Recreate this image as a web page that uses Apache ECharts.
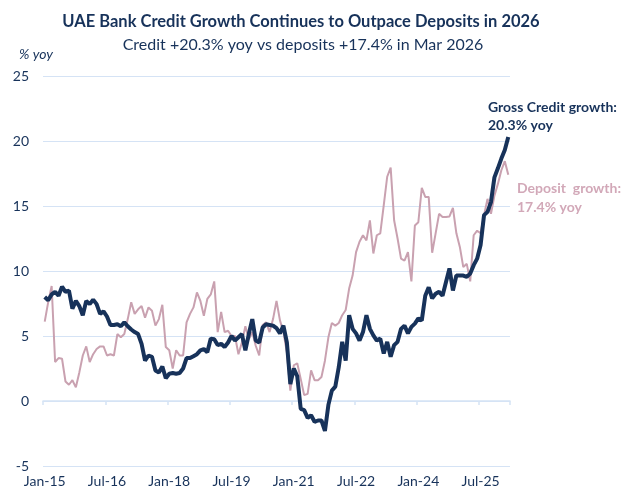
<!DOCTYPE html>
<html>
<head>
<meta charset="utf-8">
<script src="https://cdn.jsdelivr.net/npm/echarts@6/dist/echarts.min.js"></script>
<style>
html,body{margin:0;padding:0;background:#fff;}
#chart{width:622px;height:493px;}
</style>
</head>
<body>
<div id="chart"></div>
<script>
// Monthly categories Jan-15 .. Mar-26
var monthNames = ['Jan','Feb','Mar','Apr','May','Jun','Jul','Aug','Sep','Oct','Nov','Dec'];
var categories = [];
for (var y = 2015; y <= 2026; y++) {
  for (var m = 0; m < 12; m++) {
    if (y === 2026 && m > 2) break;
    categories.push(monthNames[m] + '-' + String(y).slice(2));
  }
}

// Gross credit growth, % yoy
var creditGrowth = [
  8.0, 7.75, 8.2, 8.4, 8.1, 8.8, 8.4, 8.5, 7.1, 7.7,
  7.3, 6.6, 7.7, 7.45, 7.8, 7.45, 6.7, 6.9, 6.5, 5.85,
  5.85, 5.9, 5.75, 6.05, 5.75, 5.5, 5.3, 5.15, 4.4, 3.1,
  3.5, 3.4, 2.35, 2.2, 2.65, 1.75, 2.1, 2.15, 2.1, 2.15,
  2.5, 3.3, 3.3, 3.45, 3.6, 3.9, 4.0, 3.75, 4.8, 4.75,
  4.3, 4.4, 4.15, 4.5, 5.0, 4.65, 4.9, 5.15, 3.9, 5.15,
  6.3, 4.65, 4.5, 5.65, 5.9, 5.85, 5.8, 5.6, 5.2, 5.8,
  4.5, 1.3, 2.5, 1.9, -0.6, -0.7, -1.3, -1.1, -1.6, -1.5,
  -1.5, -2.3, -0.3, 0.8, 1.1, 2.6, 4.55, 3.1, 6.6, 5.55,
  5.2, 4.65, 5.3, 6.6, 5.55, 5.05, 4.65, 4.8, 3.65, 4.55,
  3.4, 4.3, 4.55, 5.55, 5.8, 5.2, 5.7, 5.95, 6.35, 6.2,
  8.1, 8.75, 7.9, 8.25, 8.4, 8.1, 9.15, 10.2, 8.5, 9.65,
  9.65, 9.65, 9.55, 9.8, 10.45, 10.95, 12.0, 14.3, 14.55, 15.3,
  17.2, 17.9, 18.65, 19.3, 20.3
];

// Deposit growth, % yoy
var depositGrowth = [
  6.1, 7.6, 8.85, 3.0, 3.3, 3.25, 1.5, 1.25, 1.6, 1.05,
  2.2, 3.5, 4.2, 3.0, 3.6, 4.0, 4.2, 4.2, 3.5, 3.6,
  3.5, 5.15, 4.9, 5.15, 6.3, 7.6, 6.7, 7.05, 7.3, 6.4,
  7.2, 6.95, 5.8, 6.3, 7.4, 4.15, 3.9, 2.5, 3.9, 3.5,
  3.5, 6.05, 6.7, 7.2, 8.35, 7.7, 6.55, 7.85, 8.2, 9.2,
  5.3, 6.85, 5.3, 5.4, 5.0, 5.0, 3.6, 4.5, 5.75, 4.75,
  5.3, 4.25, 3.5, 5.85, 6.05, 5.3, 6.3, 7.7, 6.2, 5.3,
  3.75, 0.8, 2.75, 2.9, 1.7, 0.45, 0.55, 2.35, 1.6, 1.6,
  1.85, 3.1, 4.9, 6.0, 5.8, 6.0, 6.6, 7.0, 8.65, 9.65,
  11.45, 12.25, 12.75, 12.35, 13.9, 11.35, 12.75, 12.9, 15.05, 17.25,
  17.95, 13.9, 12.5, 10.95, 10.8, 11.45, 9.2, 13.5, 13.75, 16.4,
  15.7, 15.7, 11.4, 12.9, 14.4, 14.15, 14.15, 14.2, 14.85, 12.9,
  11.85, 10.3, 10.55, 9.2, 12.75, 13.1, 12.9, 14.3, 15.55, 14.4,
  15.8, 16.7, 17.75, 18.45, 17.4
];

var NAVY = '#17325a';
var PINK = '#c9a1b0';
var GRID = '#d5e3f5';
var FONT = 'Lato, "Open Sans", sans-serif';

var chart = echarts.init(document.getElementById('chart'), null, {renderer: 'canvas'});
chart.setOption({
  backgroundColor: '#ffffff',
  animation: false,
  textStyle: {fontFamily: FONT},
  title: [
    {
      text: 'UAE Bank Credit Growth Continues to Outpace Deposits in 2026',
      left: 296, top: 8, textAlign: 'center',
      textStyle: {fontFamily: FONT, fontSize: 16.5, fontWeight: 'bold', color: NAVY}
    },
    {
      text: 'Credit +20.3% yoy vs deposits +17.4% in Mar 2026',
      left: 298, top: 32, textAlign: 'center',
      textStyle: {fontFamily: FONT, fontSize: 16, fontWeight: 'normal', color: NAVY}
    }
  ],
  graphic: [
    {type: 'text', left: 19, top: 47, style: {text: '% yoy', font: 'italic 14px ' + FONT, fill: NAVY}},
    {type: 'text', left: 488, top: 98, style: {text: 'Gross Credit growth:\n20.3% yoy', font: 'bold 14px ' + FONT, fill: NAVY, lineHeight: 18}},
    {type: 'text', left: 517, top: 179, style: {text: 'Deposit  growth:\n17.4% yoy', font: 'bold 14px ' + FONT, fill: '#d2a8b8', lineHeight: 19}}
  ],
  grid: {left: 43, right: 112, top: 76, bottom: 27, containLabel: false, outerBoundsMode: 'none'},
  xAxis: [
    {
      type: 'category',
      data: categories,
      boundaryGap: true,
      axisLine: {onZero: true, lineStyle: {color: GRID, width: 1.5}},
      axisTick: {show: true, interval: 17, length: 4, lineStyle: {color: GRID, width: 1.5}},
      axisLabel: {show: false},
      splitLine: {show: false}
    },
    {
      type: 'category',
      data: categories,
      position: 'bottom',
      boundaryGap: true,
      axisLine: {show: false, onZero: false},
      axisTick: {show: false},
      axisLabel: {interval: 17, margin: 8, color: NAVY, fontSize: 14, fontFamily: FONT},
      splitLine: {show: false}
    }
  ],
  yAxis: {
    type: 'value',
    min: -5, max: 25, interval: 5,
    axisLine: {show: false},
    axisTick: {show: false},
    axisLabel: {color: NAVY, fontSize: 14, margin: 14, fontFamily: FONT},
    splitLine: {lineStyle: {color: GRID, width: 1}}
  },
  series: [
    {
      name: 'Deposit growth', type: 'line', data: depositGrowth, xAxisIndex: 0,
      showSymbol: false, symbol: 'none',
      lineStyle: {color: PINK, width: 2}, z: 2
    },
    {
      name: 'Gross Credit growth', type: 'line', data: creditGrowth, xAxisIndex: 0,
      showSymbol: false, symbol: 'none',
      lineStyle: {color: NAVY, width: 4}, z: 3
    }
  ]
});
</script>
</body>
</html>
